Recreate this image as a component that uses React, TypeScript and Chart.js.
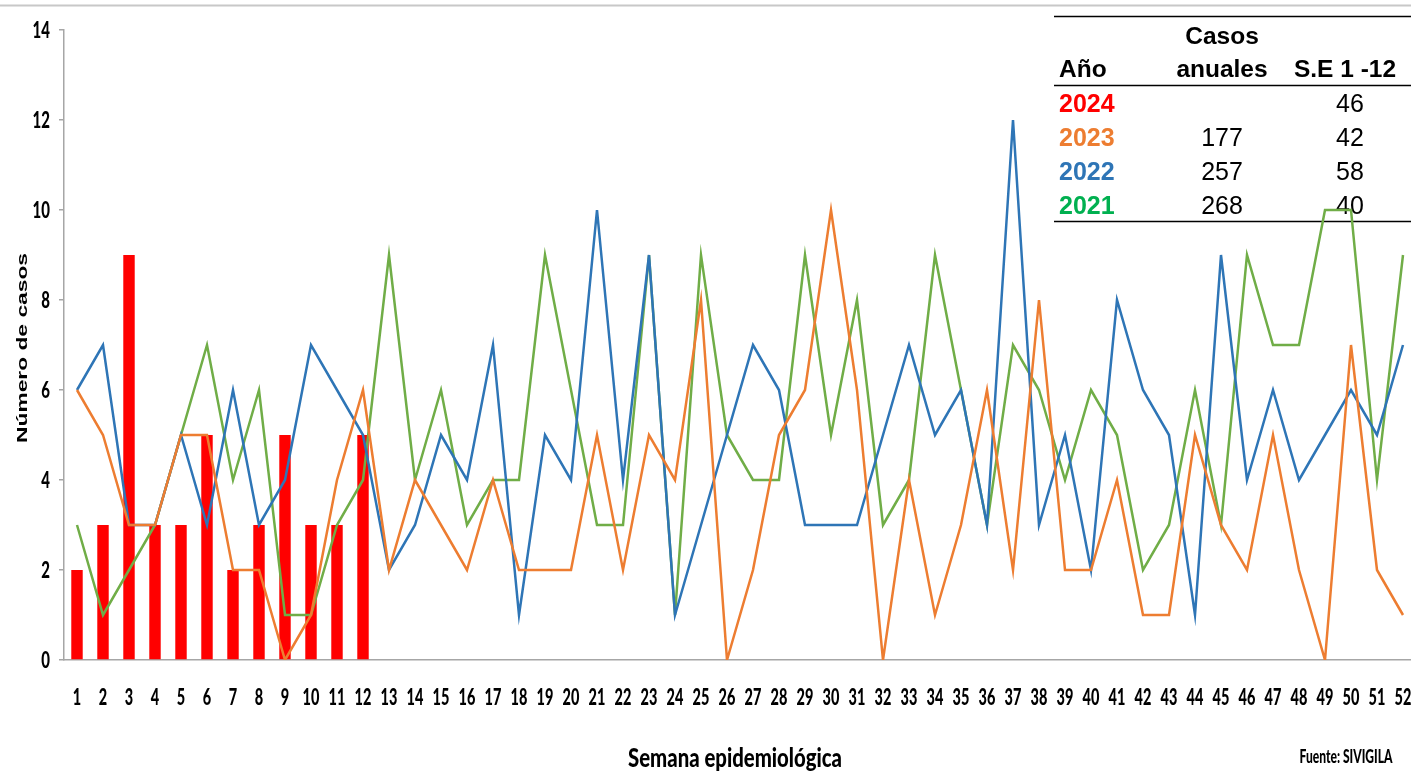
import React, { useEffect, useRef } from "react";
import { Chart, registerables } from "chart.js";

Chart.register(...registerables);

const weeks = [
  "1", "2", "3", "4", "5", "6", "7", "8", "9", "10", "11", "12", "13",
  "14", "15", "16", "17", "18", "19", "20", "21", "22", "23", "24", "25", "26",
  "27", "28", "29", "30", "31", "32", "33", "34", "35", "36", "37", "38", "39",
  "40", "41", "42", "43", "44", "45", "46", "47", "48", "49", "50", "51", "52",
];

const cases2024 = [2, 3, 9, 3, 3, 5, 2, 3, 5, 3, 3, 5];

const cases2023 = [
  6, 5, 3, 3, 5, 5, 2, 2, 0, 1, 4, 6, 2,
  4, 3, 2, 4, 2, 2, 2, 5, 2, 5, 4, 8, 0,
  2, 5, 6, 10, 6, 0, 4, 1, 3, 6, 2, 8, 2,
  2, 4, 1, 1, 5, 3, 2, 5, 2, 0, 7, 2, 1,
];

const cases2022 = [
  6, 7, 3, 3, 5, 3, 6, 3, 4, 7, 6, 5, 2,
  3, 5, 4, 7, 1, 5, 4, 10, 4, 9, 1, 3, 5,
  7, 6, 3, 3, 3, 5, 7, 5, 6, 3, 12, 3, 5,
  2, 8, 6, 5, 1, 9, 4, 6, 4, 5, 6, 5, 7,
];

const cases2021 = [
  3, 1, 2, 3, 5, 7, 4, 6, 1, 1, 3, 4, 9,
  4, 6, 3, 4, 4, 9, 6, 3, 3, 9, 1, 9, 5,
  4, 4, 9, 5, 8, 3, 4, 9, 6, 3, 7, 6, 4,
  6, 5, 2, 3, 6, 3, 9, 7, 7, 10, 10, 4, 9,
];

const yMin = 0;
const yMax = 14;
const yStep = 2;

const tableYears = ["2024", "2023", "2022", "2021"];
const tableAnnual = ["", "177", "257", "268"];
const tableSE = ["46", "42", "58", "40"];
const tableYearColors = ["#FF0000", "#ED7D31", "#2E75B6", "#00B050"];

const xTitle = "Semana epidemiológica";
const yTitle = "Número de casos";
const sourceText = "Fuente: SIVIGILA";

const COLORS = {
  bar: "#FF0000",
  l2023: "#ED7D31",
  l2022: "#2E75B6",
  l2021: "#70AD47",
  axis: "#A6A6A6",
};

const TICK_FONT = '"Lato", "Open Sans", sans-serif';
const ARIAL = '"Liberation Sans", Arial, sans-serif';

function stretchedText(
  ctx: CanvasRenderingContext2D,
  text: string,
  x: number,
  y: number,
  font: string,
  sy: number,
  align: CanvasTextAlign
) {
  ctx.save();
  ctx.translate(x, y);
  ctx.scale(1, sy);
  ctx.font = font;
  ctx.textAlign = align;
  ctx.textBaseline = "alphabetic";
  ctx.fillStyle = "#000";
  ctx.fillText(text, 0, 0);
  ctx.restore();
}

const customPlugin = {
  id: "customText",
  beforeDatasetsDraw(chart: any) {
    const ctx: CanvasRenderingContext2D = chart.ctx;
    ctx.save();
    ctx.strokeStyle = "#000";
    ctx.lineWidth = 1.5;
    [16.5, 85.5, 221.5].forEach((y) => {
      ctx.beginPath();
      ctx.moveTo(1054, y);
      ctx.lineTo(1416, y);
      ctx.stroke();
    });
    ctx.fillStyle = "#000";
    ctx.textBaseline = "alphabetic";
    ctx.font = `bold 24.5px ${ARIAL}`;
    ctx.textAlign = "center";
    ctx.fillText("Casos", 1222, 44);
    ctx.fillText("anuales", 1222, 77);
    ctx.fillText("S.E 1 -12", 1345, 77);
    ctx.textAlign = "left";
    ctx.fillText("Año", 1059, 77);
    tableYears.forEach((yr, i) => {
      const by = 112 + 34 * i;
      ctx.font = `bold 25px ${ARIAL}`;
      ctx.textAlign = "left";
      ctx.fillStyle = tableYearColors[i];
      ctx.fillText(yr, 1059, by);
      ctx.font = `25px ${ARIAL}`;
      ctx.fillStyle = "#000";
      ctx.textAlign = "center";
      if (tableAnnual[i]) ctx.fillText(tableAnnual[i], 1222, by);
      ctx.fillText(tableSE[i], 1350, by);
    });
    ctx.restore();
  },
  afterDraw(chart: any) {
    const ctx: CanvasRenderingContext2D = chart.ctx;
    const xs = chart.scales.x;
    const ys = chart.scales.y;
    ctx.save();
    ctx.strokeStyle = "#C8C8C8";
    ctx.lineWidth = 2;
    ctx.beginPath();
    ctx.moveTo(0, 5.5);
    ctx.lineTo(chart.width, 5.5);
    ctx.stroke();

    ys.ticks.forEach((t: any) => {
      const py = ys.getPixelForValue(t.value);
      stretchedText(ctx, String(t.value), 50, py + 8, `900 15px ${TICK_FONT}`, 1.55, "right");
    });
    weeks.forEach((w, i) => {
      const px = xs.getPixelForValue(i);
      stretchedText(ctx, w, px, 705, `900 14.5px ${TICK_FONT}`, 1.5, "center");
    });

    ctx.save();
    ctx.font = `900 20px ${TICK_FONT}`;
    const wT = ctx.measureText(xTitle).width;
    ctx.translate(735, 767);
    ctx.scale(214 / wT, 1.3);
    ctx.textAlign = "center";
    ctx.textBaseline = "alphabetic";
    ctx.fillStyle = "#000";
    ctx.fillText(xTitle, 0, 0);
    ctx.restore();

    ctx.save();
    ctx.font = `900 12.5px ${TICK_FONT}`;
    const wS = ctx.measureText(sourceText).width;
    ctx.translate(1346, 763);
    ctx.scale(93 / wS, 1.45);
    ctx.textAlign = "center";
    ctx.fillStyle = "#000";
    ctx.fillText(sourceText, 0, 0);
    ctx.restore();

    ctx.save();
    ctx.font = `bold 15px ${ARIAL}`;
    const wY = ctx.measureText(yTitle).width;
    ctx.translate(27, 348);
    ctx.rotate(-Math.PI / 2);
    ctx.scale(190 / wY, 1);
    ctx.textAlign = "center";
    ctx.textBaseline = "alphabetic";
    ctx.fillStyle = "#000";
    ctx.fillText(yTitle, 0, 0);
    ctx.restore();

    ctx.restore();
  },
};

export default function App() {
  const canvasRef = useRef<HTMLCanvasElement | null>(null);

  useEffect(() => {
    const canvas = canvasRef.current;
    if (!canvas) return;
    const chart = new Chart(canvas, {
      type: "bar",
      data: {
        labels: weeks,
        datasets: [
          {
            type: "line",
            label: "2023",
            data: cases2023,
            borderColor: COLORS.l2023,
            backgroundColor: COLORS.l2023,
            borderWidth: 2.5,
            pointRadius: 0,
            tension: 0,
            order: 0,
          },
          {
            type: "line",
            label: "2022",
            data: cases2022,
            borderColor: COLORS.l2022,
            backgroundColor: COLORS.l2022,
            borderWidth: 2.5,
            pointRadius: 0,
            tension: 0,
            order: 1,
          },
          {
            type: "line",
            label: "2021",
            data: cases2021,
            borderColor: COLORS.l2021,
            backgroundColor: COLORS.l2021,
            borderWidth: 2.5,
            pointRadius: 0,
            tension: 0,
            order: 2,
          },
          {
            type: "bar",
            label: "2024",
            data: cases2024,
            backgroundColor: COLORS.bar,
            borderWidth: 0,
            barPercentage: 0.44,
            categoryPercentage: 1,
            order: 3,
          },
        ],
      } as any,
      options: {
        animation: false,
        responsive: false,
        maintainAspectRatio: false,
        layout: { padding: { top: 30, left: 0, right: 0, bottom: 0 } },
        plugins: {
          legend: { display: false },
          tooltip: { enabled: false },
        },
        scales: {
          x: {
            offset: true,
            grid: { display: false },
            border: { display: true, color: COLORS.axis, width: 1.5 },
            ticks: { display: false },
            afterFit: (s: any) => {
              s.height = 120;
            },
          },
          y: {
            min: yMin,
            max: yMax,
            ticks: { display: false, stepSize: yStep },
            grid: {
              display: true,
              drawOnChartArea: false,
              drawTicks: true,
              tickLength: 5,
              tickColor: COLORS.axis,
              lineWidth: 1.5,
            },
            border: { display: true, color: COLORS.axis, width: 1.5 },
            afterFit: (s: any) => {
              s.width = 64;
            },
          },
        },
      } as any,
      plugins: [customPlugin],
    });
    return () => chart.destroy();
  }, []);

  return (
    <div
      style={{
        position: "fixed",
        left: 0,
        top: 0,
        width: 1411,
        height: 780,
        overflow: "hidden",
        background: "#fff",
      }}
    >
      <canvas ref={canvasRef} width={1416} height={780} style={{ display: "block" }} />
    </div>
  );
}
